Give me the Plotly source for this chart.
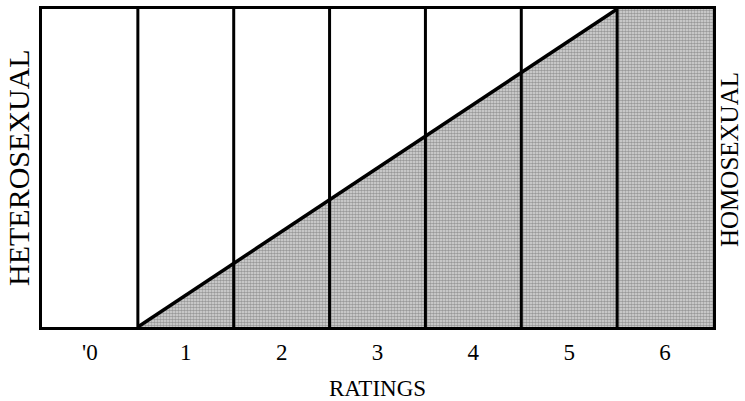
import plotly.graph_objects as go

# Kinsey rating categories
ratings = [0, 1, 2, 3, 4, 5, 6]
tick_labels = ["'0", "1", "2", "3", "4", "5", "6"]
# column boundaries between ratings
boundaries = [0.5, 1.5, 2.5, 3.5, 4.5, 5.5]
# homosexual share (fraction of height) at each boundary
homo_share = [0.0, 0.2, 0.4, 0.6, 0.8, 1.0]

fig = go.Figure()

# shaded (homosexual) region: triangle plus final full column
fx = boundaries + [6.5, 6.5, boundaries[0]]
fy = homo_share + [1.0, 0.0, 0.0]
fig.add_trace(go.Scatter(
    x=fx, y=fy, mode="none", fill="toself",
    fillcolor="#a8a8a8",
    fillpattern=dict(shape=".", fgcolor="#555555", bgcolor="#dcdcdc", size=3, solidity=0.6),
    hoverinfo="skip", showlegend=False))

# vertical separators
vx, vy = [], []
for b in boundaries:
    vx += [b, b, None]
    vy += [0, 1, None]
fig.add_trace(go.Scatter(x=vx, y=vy, mode="lines",
                         line=dict(color="black", width=3),
                         hoverinfo="skip", showlegend=False))

# diagonal
fig.add_trace(go.Scatter(x=boundaries, y=homo_share, mode="lines",
                         line=dict(color="black", width=3.5),
                         hoverinfo="skip", showlegend=False))

serif = "Liberation Serif, Times New Roman, serif"

fig.update_layout(
    width=745, height=401,
    margin=dict(l=42, r=32, t=9, b=74),
    paper_bgcolor="white", plot_bgcolor="white",
    showlegend=False,
    xaxis=dict(range=[-0.5, 6.5], tickvals=ratings, ticktext=tick_labels,
               automargin=False,
               showgrid=False, zeroline=False, showline=True, mirror=True,
               linecolor="black", linewidth=3, ticks="",
               ticklabelstandoff=2,
               tickfont=dict(family=serif, size=23, color="black"),
               title=dict(text="RATINGS", standoff=33,
                          font=dict(family=serif, size=23, color="black"))),
    yaxis=dict(range=[0, 1], showgrid=False, zeroline=False, showline=True,
               mirror=True, linecolor="black", linewidth=3, automargin=False,
               showticklabels=False, ticks=""),
    annotations=[
        dict(text="HETEROSEXUAL", x=0, xref="paper", y=0.5, yref="paper",
             xanchor="center", yanchor="middle",
             xshift=-24, yshift=0, textangle=-90, showarrow=False,
             font=dict(family=serif, size=30, color="black")),
        dict(text="HOMOSEXUAL", x=1, xref="paper", y=0.5, yref="paper",
             xanchor="center", yanchor="middle",
             xshift=16, yshift=8, textangle=-90, showarrow=False,
             font=dict(family=serif, size=25, color="black")),
    ],
)

fig.write_html("out.html", config={"displayModeBar": False},
               post_script="document.body.style.margin='0';")
